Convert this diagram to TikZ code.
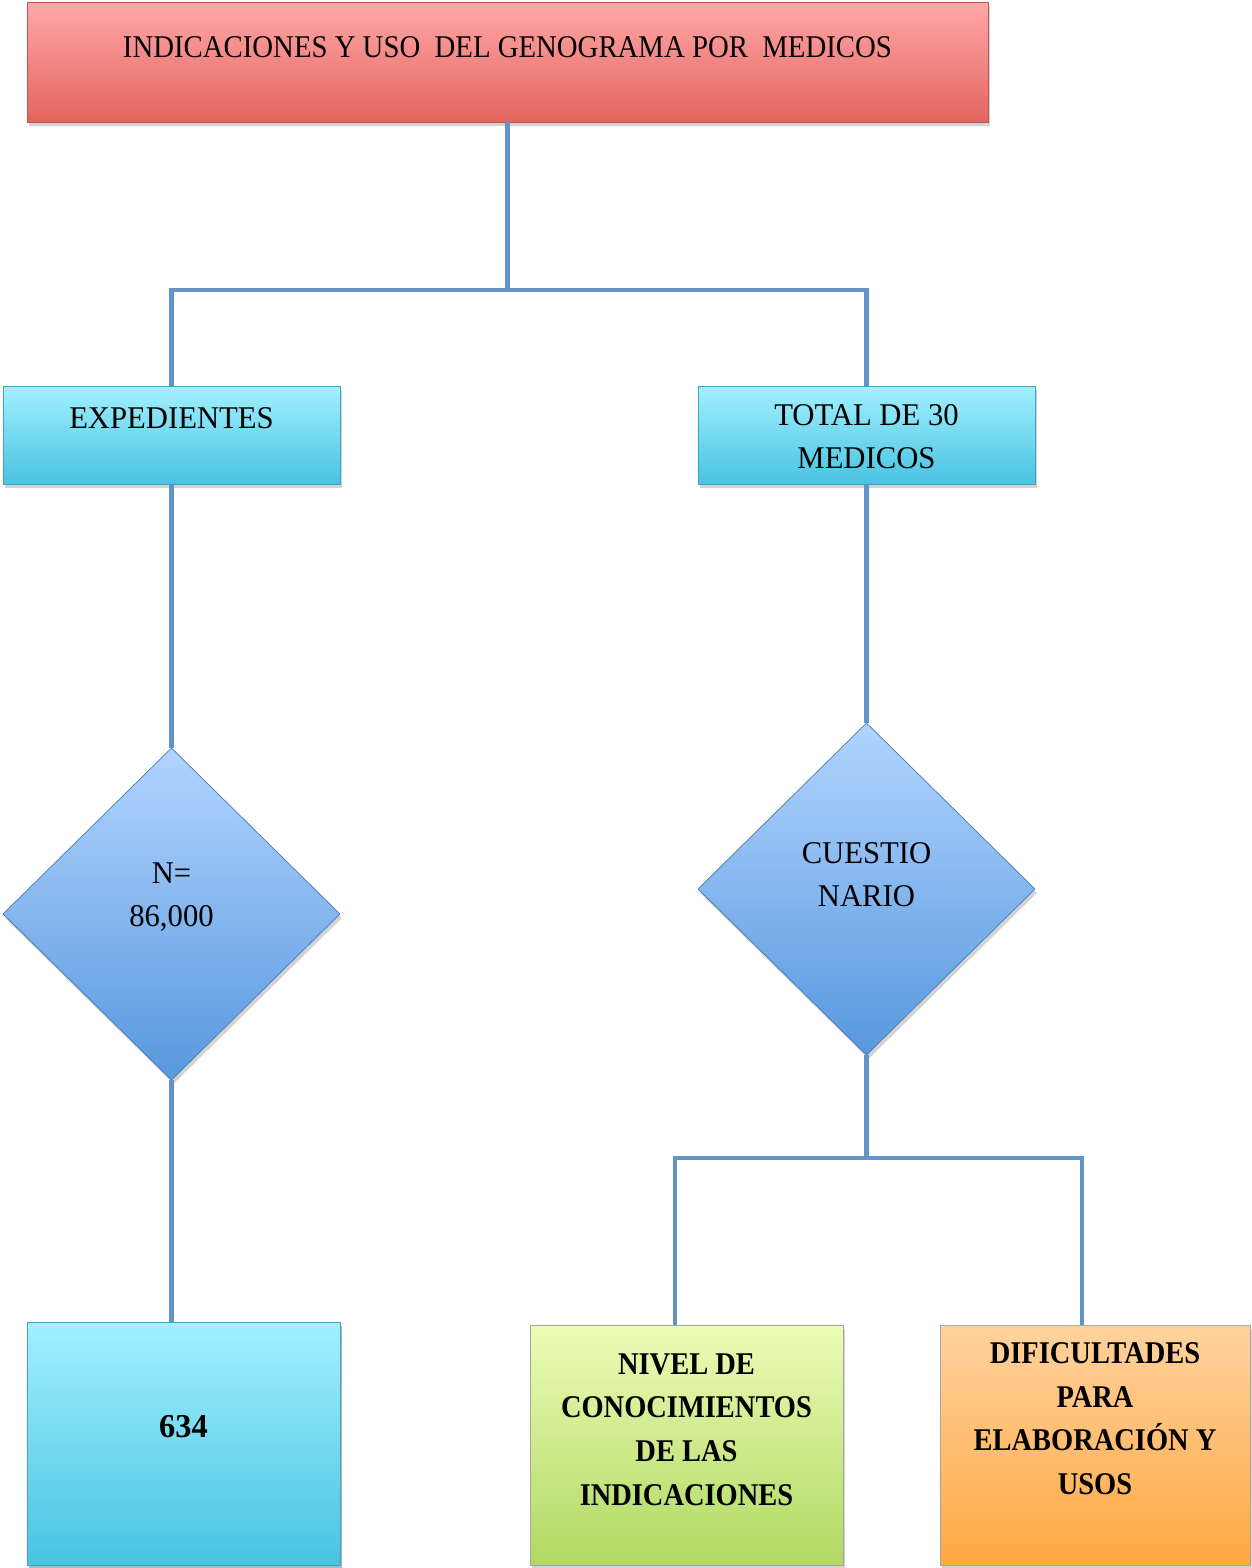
\documentclass[tikz,border=0pt]{standalone}
\usepackage{xcolor}
\usepackage{fontspec}
\setmainfont[FakeStretch=0.97]{Liberation Serif}
\newfontfamily\titlefont[FakeStretch=0.91]{Liberation Serif}
\newfontfamily\condfont[FakeStretch=0.9]{Liberation Serif}
\usepackage{tikz}
\usetikzlibrary{shapes.geometric, shadows, calc}
\definecolor{linkblue}{RGB}{98,148,202}
\definecolor{redtop}{RGB}{255,168,168}
\definecolor{redbot}{RGB}{228,100,95}
\definecolor{cyantop}{RGB}{162,240,255}
\definecolor{cyanbot}{RGB}{72,195,225}
\definecolor{diatop}{RGB}{178,212,255}
\definecolor{diabot}{RGB}{88,152,222}
\definecolor{greentop}{RGB}{236,252,182}
\definecolor{greenbot}{RGB}{176,216,98}
\definecolor{orangetop}{RGB}{255,210,158}
\definecolor{orangebot}{RGB}{255,168,66}

\begin{document}
\begin{tikzpicture}[
    x=0.02cm, y=-0.02cm,
    shade/.style={drop shadow={shadow xshift=0.4mm, shadow yshift=-0.8mm, opacity=0.35}},
    titlebox/.style={rectangle, draw=redbot!85!black, top color=redtop, bottom color=redbot, shade, minimum width=19.22cm, minimum height=2.4cm, inner sep=0pt, outer sep=0pt},
    cyanbox/.style={rectangle, draw=cyanbot!85!black, top color=cyantop, bottom color=cyanbot, shade, minimum width=6.74cm, minimum height=1.96cm, inner sep=0pt, outer sep=0pt},
    tallbox/.style={rectangle, draw=gray!70, shade, minimum height=4.8cm, inner sep=0pt, outer sep=0pt},
    decision/.style={diamond, draw=diabot!80!black, top color=diatop, bottom color=diabot, shade, minimum width=6.74cm, minimum height=6.64cm, inner sep=0pt, outer sep=0pt},
    txt/.style={align=center, font=\fontsize{18}{24.5}\selectfont},
    boldtxt/.style={align=center, font=\fontsize{18}{24.8}\selectfont\condfont\bfseries},
    conn/.style={draw=linkblue, line width=2.8pt}
]
    \useasboundingbox (0,0) rectangle (1251,1568);

    % Title
    \node[titlebox] (title) at (507.5,62) {};
    \node[txt, font=\fontsize{18}{24}\selectfont\titlefont] (title-t) at ([yshift=8.2pt]title.center) {INDICACIONES Y USO\ \ DEL GENOGRAMA POR\ \ MEDICOS};

    % First level
    \node[cyanbox] (exp) at (171.5,435) {};
    \node[txt] (exp-t) at ([yshift=9.6pt]exp.center) {EXPEDIENTES};
    \node[cyanbox] (tot) at (866.5,435) {};
    \node[txt] (tot-t) at ([yshift=-1pt]tot.center) {TOTAL DE 30\\MEDICOS};

    % Decisions
    \node[decision] (n) at (171.5,914) {};
    \node[txt] (n-t) at ([yshift=9.6pt]n.center) {N=\\86,000};
    \node[decision] (cuest) at (866.5,889) {};
    \node[txt] (cuest-t) at ([yshift=8.2pt]cuest.center) {CUESTIO\\NARIO};

    % Results
    \node[tallbox, cyanbox, minimum width=6.26cm, minimum height=4.86cm] (res) at (183.5,1443.5) {};
    \node[boldtxt, font=\fontsize{19}{24}\selectfont\bfseries] (res-t) at ([yshift=9.4pt]res.center) {634};
    \node[tallbox, top color=greentop, bottom color=greenbot, minimum width=6.26cm] (nivel) at (686.5,1445) {};
    \node[boldtxt] (nivel-t) at ([yshift=8.8pt]nivel.center) {NIVEL DE\\CONOCIMIENTOS\\DE LAS\\INDICACIONES};
    \node[tallbox, top color=orangetop, bottom color=orangebot, minimum width=6.2cm] (dif) at (1095,1445) {};
    \node[boldtxt] (dif-t) at ([yshift=15pt]dif.center) {DIFICULTADES\\PARA\\ELABORACIÓN Y\\USOS};

    % Connectors
    \coordinate (split1) at (507.5,290);
    \coordinate (split2) at (866.5,1158);
    \draw[conn] (title.south) -- (split1);
    \draw[conn] (split1) -| (exp.north);
    \draw[conn] (split1) -| (tot.north);
    \draw[conn] (exp.south) -- (n.north);
    \draw[conn] (tot.south) -- (cuest.north);
    \draw[conn] (n.south) -- (n.south |- res.north);
    \draw[conn] (cuest.south) -- (split2);
    \draw[conn] (split2) -| ($(nivel.north)+(-11.5,0)$);
    \draw[conn] (split2) -| ($(dif.north)+(-13,0)$);
\end{tikzpicture}
\end{document}
